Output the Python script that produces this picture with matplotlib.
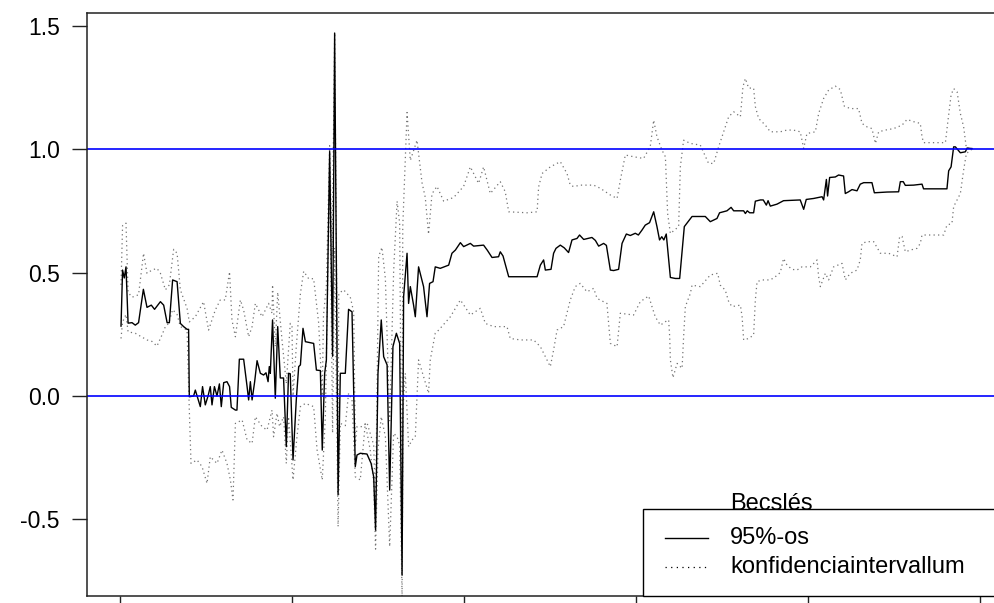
import matplotlib
matplotlib.use("Agg")
import matplotlib.pyplot as plt
from matplotlib.patches import Rectangle
from matplotlib.lines import Line2D

plt.rcParams['font.family'] = ['Liberation Sans', 'DejaVu Sans']

# point estimate
est_x = [0.4, 1.3, 2.3, 3.3, 4.5, 6.8, 8.7, 10.6, 13.4, 15.5, 18.0, 19.9, 23.3, 25.2, 27.2, 28.5,
         30.4, 33.0, 34.9, 36.8, 38.8, 39.7, 40.1, 42.6, 43.6, 46.5, 47.8, 49.4, 51.0, 52.3, 53.3,
         54.7, 56.2, 57.6, 58.7, 60.1, 62.0, 63.5, 64.5, 66.9, 67.8, 69.2, 71.7, 73.7, 74.6, 75.6,
         76.6, 78.1, 79.5, 81.4, 83.3, 84.7, 85.9, 86.6, 87.2, 88.5, 90.1, 91.5, 93.0, 94.9, 96.5,
         97.8, 98.8, 100.4, 102.3, 103.7, 104.7, 106.2, 107.6, 110.5, 112.4, 114.0, 116.3, 117.4,
         118.8, 119.8, 121.7, 123.4, 124.6, 126.6, 127.9, 130.8, 132.7, 134.7, 136.6, 137.6, 139.5,
         143.4, 145.8, 147.3, 148.4, 149.8, 151.7, 153.1, 155.1, 156.6, 158.5, 160.5, 162.4, 163.8,
         164.7, 166.7, 167.6, 168.6, 170.5, 171.5, 173.4, 176.3, 178.3, 179.8, 181.8, 183.1, 186.0,
         190.9, 192.8, 194.8, 197.7, 199.6, 203.5, 205.4, 211.2, 213.4, 216.1, 219.9, 220.9, 222.5,
         225.8, 242.3, 244.2, 246.1, 247.1, 250.4, 251.9, 253.3, 255.8, 258.1, 260.6, 262.6, 265.5,
         267.0, 269.4, 274.2, 276.2, 278.1, 281.0, 282.6, 284.9, 286.8, 289.7, 291.7, 294.2, 296.5,
         299.4, 301.2, 303.3, 305.2, 307.7, 310.1, 312.0, 313.5, 314.8, 316.0, 317.4, 319.8, 322.7,
         325.2, 327.9, 332.4, 340.1, 343.0, 346.9, 348.4, 352.7, 355.1, 356.6, 362.4, 363.4, 364.5,
         365.9, 368.2, 369.2, 372.1, 373.8, 375.6, 376.6, 377.9, 381.8, 385.6, 395.3, 397.3, 398.8,
         403.1, 408.0, 408.9, 410.5, 411.2, 412.4, 415.7, 417.6, 420.5, 421.5, 423.4, 425.4, 428.3,
         430.2, 432.2, 437.0, 438.4, 445.8, 452.5, 453.5, 455.2, 456.4, 461.2, 466.1, 467.0, 480.6,
         481.6, 483.0, 484.5, 485.5, 488.4, 491.3, 492.3, 495.2]
est_y = [0.283, 0.51, 0.478, 0.523, 0.295, 0.297, 0.287, 0.297, 0.432, 0.359, 0.368, 0.351, 0.382,
         0.368, 0.297, 0.297, 0.47, 0.463, 0.294, 0.281, 0.27, 0.27, -0.003, 0.0, 0.024, -0.043,
         0.038, -0.036, 0.0, 0.038, -0.036, 0.038, 0.0, 0.049, -0.043, 0.054, 0.058, 0.038, -0.046,
         -0.057, -0.057, 0.149, 0.149, 0.038, -0.016, 0.058, -0.016, 0.058, 0.143, 0.092, 0.085,
         0.094, 0.058, 0.119, 0.092, 0.308, -0.009, 0.281, 0.073, 0.073, -0.205, 0.092, 0.09, -0.259,
         -0.016, 0.119, 0.126, 0.274, 0.22, 0.216, 0.213, 0.105, 0.103, -0.219, 0.092, 0.146, 0.99,
         0.161, 1.47, -0.40, 0.092, 0.092, 0.351, 0.341, -0.286, -0.239, -0.232, -0.235, -0.273,
         -0.327, -0.543, 0.092, 0.308, 0.159, 0.126, -0.381, 0.2, 0.254, 0.213, -0.725, 0.402, 0.578,
         0.375, 0.443, 0.368, 0.321, 0.523, 0.443, 0.321, 0.456, 0.463, 0.523, 0.517, 0.53, 0.578,
         0.591, 0.621, 0.605, 0.618, 0.607, 0.611, 0.59, 0.561, 0.564, 0.584, 0.567, 0.483, 0.483,
         0.53, 0.551, 0.51, 0.513, 0.578, 0.598, 0.611, 0.6, 0.581, 0.632, 0.638, 0.652, 0.634,
         0.642, 0.63, 0.607, 0.618, 0.61, 0.51, 0.508, 0.513, 0.618, 0.656, 0.65, 0.659, 0.652,
         0.672, 0.692, 0.702, 0.746, 0.686, 0.632, 0.645, 0.632, 0.656, 0.48, 0.476, 0.476, 0.686,
         0.727, 0.727, 0.706, 0.719, 0.742, 0.75, 0.764, 0.75, 0.75, 0.739, 0.75, 0.742, 0.742,
         0.789, 0.794, 0.794, 0.773, 0.791, 0.769, 0.777, 0.791, 0.794, 0.756, 0.796, 0.8, 0.807,
         0.794, 0.877, 0.81, 0.885, 0.887, 0.895, 0.891, 0.82, 0.827, 0.836, 0.831, 0.858, 0.864,
         0.864, 0.823, 0.826, 0.827, 0.868, 0.868, 0.853, 0.854, 0.858, 0.839, 0.839, 0.912, 0.928,
         1.009, 1.009, 0.985, 0.989, 1.004, 1.002]

# upper bound of the interval
upper_x = [0.4, 1.3, 3.3, 4.5, 6.8, 10.6, 13.5, 15.5, 18.4, 21.3, 23.3, 26.2, 28.5, 31.0, 33.0,
           34.9, 38.8, 40.1, 43.6, 48.4, 51.3, 55.2, 58.1, 61.0, 63.5, 64.9, 66.9, 69.8, 71.7,
           74.6, 76.6, 78.5, 82.4, 86.2, 88.2, 88.5, 90.1, 91.5, 94.0, 96.5, 98.8, 99.8, 100.4,
           102.3, 104.7, 106.6, 109.5, 112.4, 115.3, 117.4, 118.1, 119.8, 121.7, 123.1, 124.6,
           126.6, 127.0, 129.8, 133.7, 135.7, 136.6, 137.6, 140.5, 143.4, 147.3, 148.4, 150.2,
           152.1, 154.1, 156.6, 158.9, 160.9, 162.4, 163.8, 164.2, 166.7, 168.6, 172.5, 175.4,
           177.3, 179.2, 181.2, 184.1, 188.0, 193.8, 199.6, 203.5, 208.3, 211.2, 215.1, 220.9,
           223.8, 225.8, 236.5, 242.3, 243.2, 245.2, 250.0, 255.8, 259.7, 261.6, 263.6, 267.4,
           275.2, 279.1, 284.9, 288.8, 290.7, 293.6, 298.4, 304.2, 308.1, 310.1, 312.0, 314.9,
           316.9, 318.2, 319.8, 324.6, 325.6, 327.5, 331.4, 337.2, 342.0, 345.0, 347.9, 349.8,
           353.7, 356.6, 360.5, 362.0, 363.4, 365.3, 368.2, 369.2, 371.1, 375.0, 377.9, 383.7,
           387.6, 391.3, 395.3, 397.3, 399.2, 404.1, 406.0, 408.9, 411.8, 415.7, 418.6, 420.9,
           424.4, 429.2, 431.2, 434.1, 437.0, 439.0, 440.9, 444.8, 449.6, 454.5, 457.4, 461.2,
           465.1, 466.1, 467.0, 479.7, 481.0, 483.0, 484.5, 486.5, 488.4, 490.3, 491.9, 495.2]
upper_y = [0.45, 0.69, 0.70, 0.42, 0.40, 0.41, 0.578, 0.497, 0.51, 0.517, 0.497, 0.43, 0.45,
           0.594, 0.578, 0.43, 0.355, 0.30, 0.321, 0.382, 0.267, 0.348, 0.389, 0.389, 0.503,
           0.308, 0.24, 0.389, 0.348, 0.24, 0.281, 0.375, 0.321, 0.375, 0.335, 0.45, 0.2, 0.42,
           0.227, 0.05, 0.294, 0.281, 0.0, 0.2, 0.415, 0.505, 0.475, 0.475, 0.296, 0.0, 0.325,
           0.45, 1.014, 0.565, 1.47, -0.25, 0.415, 0.43, 0.40, 0.34, -0.2, -0.124, -0.124, -0.108,
           -0.198, -0.45, 0.565, 0.602, 0.475, -0.1, 0.505, 0.789, 0.70, -0.6, 0.684, 1.148,
           0.954, 1.036, 0.864, 0.804, 0.655, 0.819, 0.849, 0.789, 0.804, 0.849, 0.928, 0.861,
           0.928, 0.82, 0.868, 0.827, 0.746, 0.742, 0.746, 0.847, 0.901, 0.928, 0.949, 0.901,
           0.854, 0.848, 0.854, 0.854, 0.841, 0.814, 0.8, 0.874, 0.976, 0.969, 0.962, 1.01, 1.117,
           1.05, 0.996, 0.969, 0.739, 0.658, 0.686, 0.928, 1.036, 1.023, 1.016, 0.942, 0.942,
           1.01, 1.05, 1.131, 1.151, 1.131, 1.253, 1.286, 1.247, 1.247, 1.172, 1.124, 1.097, 1.07,
           1.07, 1.077, 1.077, 1.07, 1.003, 1.063, 1.07, 1.144, 1.205, 1.239, 1.255, 1.241, 1.174,
           1.164, 1.164, 1.104, 1.09, 1.083, 1.023, 1.07, 1.077, 1.083, 1.097, 1.12, 1.111, 1.104,
           1.05, 1.026, 1.026, 1.104, 1.219, 1.245, 1.232, 1.144, 1.09, 1.003, 1.004]

# lower bound of the interval
lower_x = [0.4, 1.3, 3.3, 4.5, 8.7, 15.5, 18.4, 21.3, 24.2, 26.2, 28.1, 30.4, 33.0, 34.9, 38.8,
           40.1, 41.1, 44.6, 47.5, 50.4, 52.3, 56.2, 59.1, 62.0, 64.0, 65.5, 66.9, 70.8, 73.7,
           76.6, 78.5, 82.4, 85.3, 88.2, 89.1, 91.1, 92.6, 94.9, 96.5, 97.8, 100.4, 102.7, 104.7,
           107.6, 112.4, 114.4, 117.4, 119.2, 121.7, 123.4, 124.6, 126.6, 127.9, 130.8, 132.7,
           134.7, 136.6, 139.5, 142.4, 145.3, 147.3, 148.4, 149.8, 151.7, 154.1, 156.6, 158.9,
           160.9, 162.4, 163.8, 164.4, 165.7, 167.6, 169.6, 171.5, 173.4, 176.3, 179.2, 180.2,
           183.1, 185.1, 191.9, 194.8, 197.7, 203.5, 209.3, 212.2, 217.0, 224.8, 226.7, 232.6,
           240.3, 244.2, 248.1, 250.0, 251.9, 253.9, 257.7, 261.6, 264.5, 267.4, 271.3, 275.2,
           277.2, 282.9, 284.9, 288.8, 290.7, 298.4, 302.3, 307.2, 309.1, 311.0, 314.0, 316.9,
           318.8, 319.4, 319.8, 321.3, 323.7, 326.6, 327.5, 328.5, 331.4, 332.4, 337.2, 343.0,
           347.3, 348.8, 351.7, 353.7, 355.6, 360.5, 361.5, 362.4, 365.3, 368.2, 369.2, 370.2,
           373.1, 377.9, 380.8, 383.7, 385.6, 387.6, 390.5, 393.4, 396.3, 401.2, 405.1, 406.0,
           407.0, 409.9, 411.8, 414.7, 419.6, 421.5, 424.4, 428.3, 430.2, 431.2, 434.1, 438.0,
           441.9, 446.7, 451.6, 453.1, 454.5, 456.4, 459.3, 463.2, 465.1, 466.1, 478.7, 480.6,
           483.5, 484.5, 486.5, 488.4, 490.3, 491.9, 495.2]
lower_y = [0.233, 0.30, 0.33, 0.26, 0.254, 0.227, 0.221, 0.202, 0.247, 0.281, 0.294, 0.35, 0.33,
           0.281, 0.267, -0.057, -0.273, -0.259, -0.286, -0.354, -0.246, -0.273, -0.219, -0.273,
           -0.34, -0.421, -0.111, -0.097, -0.178, -0.192, -0.084, -0.124, -0.138, -0.057, -0.165,
           -0.07, -0.124, -0.084, -0.273, -0.084, -0.34, -0.165, -0.043, -0.03, -0.043, -0.219,
           -0.34, -0.084, 0.93, -0.15, 0.6, -0.529, -0.111, -0.12, 0.011, -0.016, -0.327, -0.34,
           -0.111, -0.219, -0.354, -0.62, -0.219, -0.084, -0.165, -0.61, -0.151, -0.165, -0.2,
           -0.812, -0.043, 0.092, -0.205, -0.178, -0.165, 0.146, 0.078, 0.011, 0.146, 0.254,
           0.267, 0.321, 0.355, 0.389, 0.328, 0.355, 0.294, 0.281, 0.281, 0.233, 0.227, 0.227,
           0.2, 0.146, 0.119, 0.186, 0.267, 0.281, 0.389, 0.443, 0.456, 0.422, 0.436, 0.395,
           0.375, 0.213, 0.2, 0.335, 0.328, 0.382, 0.405, 0.362, 0.321, 0.287, 0.301, 0.308, 0.24,
           0.146, 0.074, 0.132, 0.112, 0.24, 0.362, 0.415, 0.449, 0.443, 0.49, 0.497, 0.449,
           0.429, 0.382, 0.362, 0.368, 0.321, 0.227, 0.233, 0.247, 0.389, 0.463, 0.47, 0.47,
           0.483, 0.5, 0.557, 0.53, 0.513, 0.51, 0.523, 0.523, 0.551, 0.483, 0.443, 0.497, 0.47,
           0.523, 0.537, 0.47, 0.497, 0.51, 0.551, 0.618, 0.625, 0.625, 0.578, 0.578, 0.564,
           0.646, 0.646, 0.584, 0.591, 0.598, 0.618, 0.652, 0.652, 0.692, 0.699, 0.767, 0.794,
           0.82, 0.915, 0.982, 1.0]

ref_levels = [0.0, 1.0]
y_ticks = [-0.5, 0.0, 0.5, 1.0, 1.5]
x_ticks = [0, 100, 200, 300, 400, 500]

fig = plt.figure(figsize=(9.95, 6.03), dpi=100)
ax = fig.add_axes([0.0874, 0.0116, 0.9236, 0.9668])

dot_style = (0, (1.0, 2.6))
ax.plot(upper_x, upper_y, color='0.45', lw=0.9, linestyle=dot_style)
ax.plot(lower_x, lower_y, color='0.45', lw=0.9, linestyle=dot_style)
ax.plot(est_x, est_y, color='black', lw=1.0)
for lvl in ref_levels:
    ax.axhline(lvl, color='#0000ff', lw=1.2)

ax.set_xlim(-19.4, 514.9)
ax.set_ylim(-0.81, 1.551)
ax.set_yticks(y_ticks)
ax.set_yticklabels(['-0.5', '0.0', '0.5', '1.0', '1.5'])
ax.set_xticks(x_ticks)
ax.tick_params(axis='both', length=10.5, width=1.0, color='#222222', direction='out')
ax.tick_params(axis='y', labelsize=16.5, pad=9)
ax.tick_params(axis='x', labelbottom=False)
for sp in ax.spines.values():
    sp.set_linewidth(1.1)
    sp.set_color('#222222')

# legend box, drawn by hand so the title sits on the top border
tr = ax.transAxes
ax.add_patch(Rectangle((0.605, 0.0), 0.6, 0.149, transform=tr, fill=True,
                       facecolor='white', edgecolor='black', lw=1.0, clip_on=False, zorder=5))
ax.add_line(Line2D([0.629, 0.676], [0.100, 0.100], transform=tr, color='black', lw=1.0, zorder=6))
ax.add_line(Line2D([0.629, 0.676], [0.050, 0.050], transform=tr, color='black', lw=0.9,
                   linestyle=(0, (1.0, 3.5)), zorder=6))
ax.text(0.6997, 0.158, 'Becslés', transform=tr, fontsize=17, va='center', ha='left', zorder=7)
ax.text(0.6997, 0.100, '95%-os', transform=tr, fontsize=17, va='center', ha='left', zorder=7)
ax.text(0.6997, 0.050, 'konfidenciaintervallum', transform=tr, fontsize=17,
        va='center', ha='left', zorder=7)

fig.savefig('out.png', dpi=100)
